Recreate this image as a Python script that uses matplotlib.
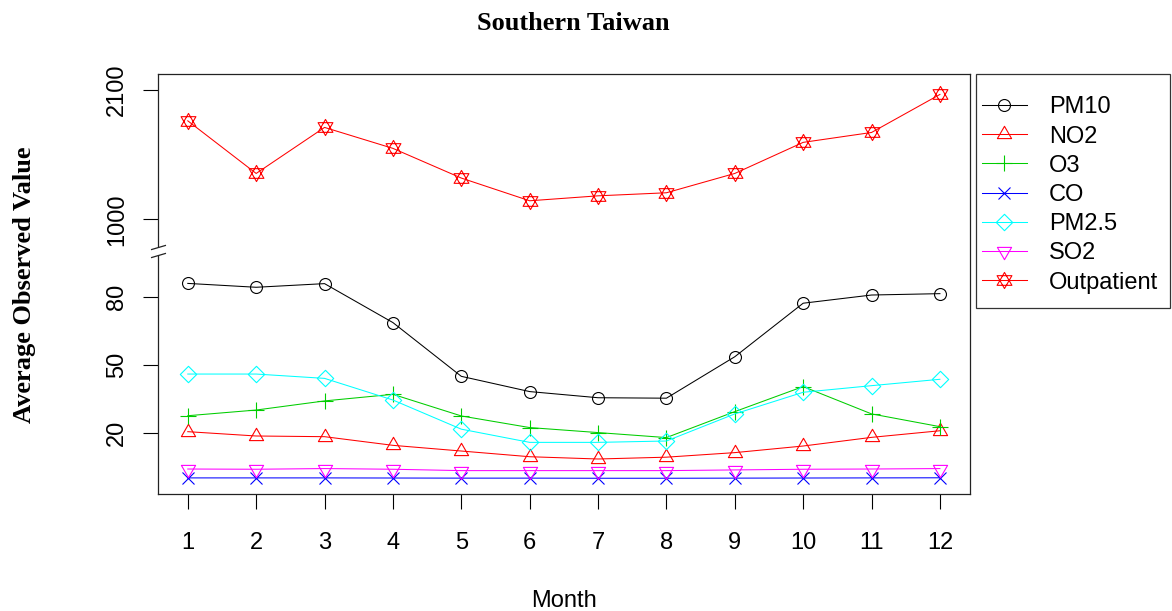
import numpy as np
import matplotlib.pyplot as plt
from matplotlib.path import Path
from matplotlib.patches import Rectangle
from matplotlib import transforms

# Monthly averages, southern Taiwan
months = np.arange(1, 13)
pm10 = [85.8, 84.1, 85.7, 68.6, 45.0, 38.3, 35.6, 35.4, 53.6, 77.1, 80.7, 81.3]
no2 = [20.7, 18.8, 18.5, 14.7, 12.2, 9.7, 8.7, 9.5, 11.5, 14.4, 18.2, 21.1]
o3 = [27.7, 30.2, 34.2, 37.1, 27.6, 22.5, 20.3, 18.1, 29.5, 40.5, 28.5, 22.9]
co = [0.4, 0.4, 0.4, 0.35, 0.3, 0.3, 0.25, 0.25, 0.3, 0.35, 0.4, 0.45]
pm25 = [46.0, 46.0, 44.1, 34.6, 21.8, 16.0, 16.0, 16.6, 28.5, 38.0, 40.9, 43.7]
so2 = [4.3, 4.2, 4.5, 4.2, 3.6, 3.6, 3.6, 3.6, 3.9, 4.2, 4.3, 4.5]
outpatient = [1837, 1390, 1781, 1603, 1351, 1158, 1200, 1226, 1390, 1654, 1738, 2061]

ytick_vals = [20, 50, 80, 1000, 2100]

# gapped y axis: values up to LO drawn as-is, values above HI compressed by K
LO, HI, K = 100.0, 731.0, 19.34


def fwd(v):
    v = np.asarray(v, dtype=float)
    return np.where(v <= LO, v, LO + np.clip(v - HI, 0, None) / K)


def inv(y):
    y = np.asarray(y, dtype=float)
    return np.where(y <= LO, y, HI + (y - LO) * K)


# R-style plotting symbols
tri_up = Path([(0, 1.555), (-1.347, -0.778), (1.347, -0.778), (0, 1.555)],
              [Path.MOVETO, Path.LINETO, Path.LINETO, Path.CLOSEPOLY])
tri_dn = Path([(0, -1.555), (-1.347, 0.778), (1.347, 0.778), (0, -1.555)],
              [Path.MOVETO, Path.LINETO, Path.LINETO, Path.CLOSEPOLY])
diamond = Path([(0, 1), (1, 0), (0, -1), (-1, 0), (0, 1)],
               [Path.MOVETO, Path.LINETO, Path.LINETO, Path.LINETO, Path.CLOSEPOLY])
star = Path([(0, 1), (-0.92, -0.6), (0.92, -0.6), (0, 1),
             (0, -1), (-0.92, 0.6), (0.92, 0.6), (0, -1)],
            [Path.MOVETO, Path.LINETO, Path.LINETO, Path.CLOSEPOLY,
             Path.MOVETO, Path.LINETO, Path.LINETO, Path.CLOSEPOLY])

series = [
    ("PM10", pm10, "black", "o", 8.6),
    ("NO2", no2, "#FF0000", tri_up, 11.8),
    ("O3", o3, "#00CD00", "+", 12.0),
    ("CO", co, "#0000FF", "x", 8.4),
    ("PM2.5", pm25, "#00FFFF", diamond, 11.8),
    ("SO2", so2, "#FF00FF", tri_dn, 11.8),
    ("Outpatient", outpatient, "#FF0000", star, 11.6),
]

W, H = 1172, 611
fig = plt.figure(figsize=(W / 100, H / 100), dpi=100)
ax = fig.add_axes([157.7 / W, 1 - 494.3 / H, (970 - 157.7) / W, (494.3 - 74.3) / H])
ax.set_yscale("function", functions=(fwd, inv))

sans = "Liberation Sans"
serif = "Liberation Serif"

for name, vals, col, mk, ms in series:
    ax.plot(months, vals, color=col, lw=0.75, marker=mk, ms=ms, mfc="none",
            mec=col, mew=0.8, label=name)

ax.set_xlim(0.56, 12.44)
ax.set_ylim(-6.8, 2232)
ax.set_xticks(months)
ax.set_yticks(ytick_vals)
ax.set_yticklabels([str(v) for v in ytick_vals], rotation=90, va="center",
                   fontfamily=sans, fontsize=17)
ax.set_xticklabels([str(m) for m in months], fontfamily=sans, fontsize=17)
ax.yaxis.set_minor_locator(plt.NullLocator())
ax.tick_params(axis="both", length=11, width=0.8, color="black")
ax.tick_params(axis="y", pad=10.5)
ax.tick_params(axis="x", pad=16)
for sp in ax.spines.values():
    sp.set_linewidth(0.9)
    sp.set_color("#222222")

# axis break marks on the left spine
brk = transforms.blended_transform_factory(ax.transAxes, ax.transData)
gap_mark = Path([(-2, -4), (2, -4), (2, 4), (-2, 4), (-2, -4)],
                [Path.MOVETO, Path.LINETO, Path.LINETO, Path.LINETO, Path.CLOSEPOLY])
slash_mark = Path([(-7.5, 1.8), (7.5, 6.2), (-7.5, -6.2), (7.5, -1.8)],
                  [Path.MOVETO, Path.LINETO, Path.MOVETO, Path.LINETO])
ax.plot([0], [LO], transform=brk, marker=gap_mark, ms=5.8, mfc="white",
        mec="none", clip_on=False, zorder=6)
ax.plot([0], [LO], transform=brk, marker=slash_mark, ms=10.8, mfc="none",
        mec="#222222", mew=0.9, clip_on=False, zorder=7)

# legend box
fig.patches.append(Rectangle((975.7 / W, 1 - 308.3 / H), (1170 - 975.7) / W,
                             (308.3 - 74.3) / H, transform=fig.transFigure,
                             fill=False, edgecolor="#333333", lw=0.9))
fig.legend(loc="upper left", bbox_to_anchor=(981.7 / W, 1 - 96.3 / H),
           frameon=False, borderpad=0, borderaxespad=0, handlelength=1.93,
           handletextpad=0.92, labelspacing=0.305,
           prop={"family": sans, "size": 17})

fig.text(573 / W, 1 - 23 / H, "Southern Taiwan", ha="center", va="center",
         fontfamily=serif, fontweight="bold", fontsize=19)
fig.text(25 / W, 1 - 284.3 / H, "Average Observed Value", rotation=90,
         ha="center", va="center", fontfamily=serif, fontweight="bold",
         fontsize=19)
fig.text(563.8 / W, 1 - 607 / H, "Month", ha="center", va="baseline",
         fontfamily=sans, fontsize=17)

fig.savefig("out.png", dpi=100)
